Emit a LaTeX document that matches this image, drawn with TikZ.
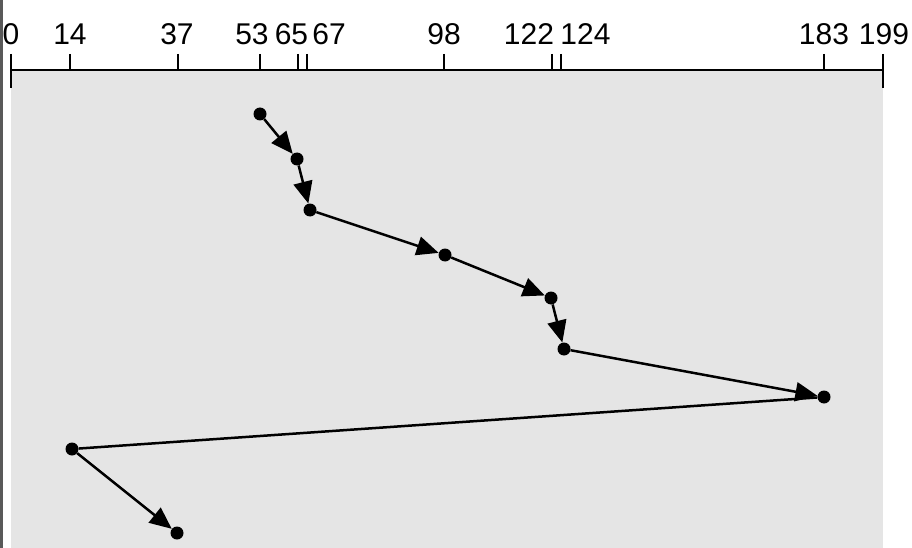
\documentclass[tikz,border=0pt]{standalone}
\usepackage{fontspec}
\setmainfont{Liberation Sans}
\usetikzlibrary{arrows.meta}
\begin{document}
\begin{tikzpicture}[x=1pt,y=-1pt,
  dot/.style={circle,fill=black,inner sep=0pt,minimum size=13pt},
  seg/.style={line width=2.5pt},
  arr/.style={seg,-{Triangle[length=22pt,width=19pt]}},
  tick/.style={line width=1.8pt},
  lab/.style={anchor=base,inner sep=0pt,font=\fontsize{30}{30}\selectfont}]
\useasboundingbox (0,0) rectangle (912,548);
\fill[white] (0,0) rectangle (912,548);
\fill[black!10] (11,70) rectangle (883,548);
\draw[line width=2.5pt,black!65] (1.5,0) -- (1.5,548);
% axis
\draw[line width=2.2pt] (11,70) -- (883,70);
\foreach \x in {70,178,260,298,307,444,552,561,824} \draw[tick] (\x,54) -- (\x,70);
\draw[tick] (11,54) -- (11,88);
\draw[tick] (883,54) -- (883,88);
\node[lab] (l0) at (11,45) {0};
\node[lab] (l14) at (70,45) {14};
\node[lab] (l37) at (177,45) {37};
\node[lab] (l53) at (252,45) {53};
\node[lab] (l65) at (291.5,45) {65};
\node[lab] (l67) at (329,45) {67};
\node[lab] (l98) at (444,45) {98};
\node[lab] (l122) at (529,45) {122};
\node[lab] (l124) at (585.5,45) {124};
\node[lab] (l183) at (824,45) {183};
\node[lab] (l199) at (884,45) {199};
% requests
\node[dot] (a) at (260,114) {};
\node[dot] (b) at (297,159) {};
\node[dot] (c) at (310,210) {};
\node[dot] (d) at (445,255) {};
\node[dot] (e) at (551,298) {};
\node[dot] (f) at (564,349) {};
\node[dot] (g) at (824,397) {};
\node[dot] (h) at (72,449) {};
\node[dot] (i) at (177,533) {};
\draw[arr] (a) -- (b);
\draw[arr] (b) -- (c);
\draw[arr] (c) -- (d);
\draw[arr] (d) -- (e);
\draw[arr] (e) -- (f);
\draw[arr] (f) -- (g);
\draw[seg] (g) -- (h);
\draw[arr] (h) -- (i);
\end{tikzpicture}
\end{document}
